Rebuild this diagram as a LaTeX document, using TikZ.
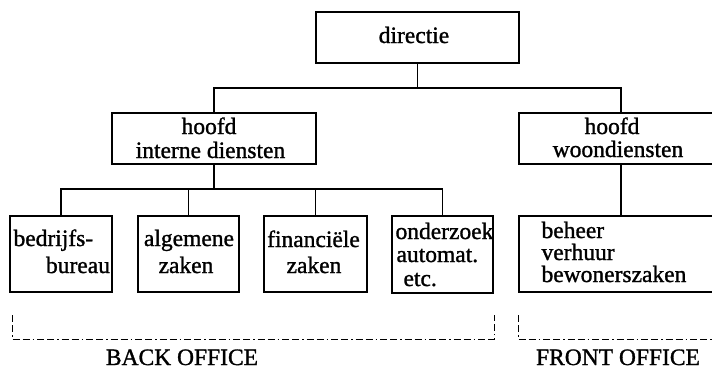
\documentclass[tikz,border=0pt]{standalone}
\usepackage{fontspec}
\setmainfont{Liberation Serif}[FakeBold=1.2]
\begin{document}
\begin{tikzpicture}[x=1pt,y=-1pt,
  line width=1.1pt,
  box/.style={draw,rectangle,inner sep=0pt,line width=1.1pt},
  txt/.style={inner sep=0pt,font=\fontsize{23.5}{24}\selectfont},
  link/.style={line width=1.1pt},
  bracket/.style={line width=0.9pt,dash pattern=on 7pt off 3pt on 7pt off 3pt on 1.5pt off 3pt}]
\clip (0,0) rectangle (712,370);
\fill[white] (0,0) rectangle (712,370);

% boxes
\node[box,minimum width=203pt,minimum height=51pt] (dir) at (417.5,37.5) {};
\node[box,minimum width=204pt,minimum height=51pt] (hid) at (214,138.5) {};
\node[box,minimum width=204pt,minimum height=51pt] (hw)  at (621,138.5) {};
\node[box,minimum width=102pt,minimum height=76pt] (b1) at (61,254) {};
\node[box,minimum width=101pt,minimum height=76pt] (b2) at (188.5,254) {};
\node[box,minimum width=103pt,minimum height=76pt] (b3) at (315.5,254) {};
\node[box,minimum width=101pt,minimum height=77pt] (b4) at (442.5,254.5) {};
\node[box,minimum width=204pt,minimum height=76pt] (fo) at (621,254) {};

% texts
\node[txt,anchor=base] (tdir) at (414,43) {directie};
\node[txt,anchor=base] (thid1) at (209,134) {hoofd};
\node[txt,anchor=base] (thid2) at (210.5,158) {interne diensten};
\node[txt,anchor=base] (thw1) at (612,134) {hoofd};
\node[txt,anchor=base] (thw2) at (618,157) {woondiensten};
\node[txt,anchor=base west] (tb1a) at (13,246) {bedrijfs-};
\node[txt,anchor=base east] (tb1b) at (110.5,273) {bureau};
\node[txt,anchor=base] (tb2a) at (189,246) {algemene};
\node[txt,anchor=base] (tb2b) at (186,273) {zaken};
\node[txt,anchor=base] (tb3a) at (313.5,247) {financiële};
\node[txt,anchor=base] (tb3b) at (314,273) {zaken};
\node[txt,anchor=base west] (tb4a) at (395,239) {onderzoek};
\node[txt,anchor=base west] (tb4b) at (396,262) {automat.};
\node[txt,anchor=base west] (tb4c) at (403,286) {etc.};
\node[txt,anchor=base west] (tfo1) at (541,238) {beheer};
\node[txt,anchor=base west] (tfo2) at (541,260) {verhuur};
\node[txt,anchor=base west] (tfo3) at (541,282) {bewonerszaken};
\node[txt,anchor=base] (back) at (182,365) {BACK OFFICE};
\node[txt,anchor=base] (front) at (618,365) {FRONT OFFICE};

% connectors
\coordinate (j1) at (417.5,88);
\coordinate (j2) at (214,189);
\draw[link] (dir.south) -- (j1);
\draw[link] (hid.north) |- (j1) -| (hw.north);
\draw[link] (hid.south) -- (j2);
\draw[link] (b1.north) |- (j2) -| (b4.north);
\draw[link] (b2.north) -- (b2.north |- j2);
\draw[link] (b3.north) -- (b3.north |- j2);
\draw[link] (hw.south) -- (fo.north);

% office brackets
\draw[bracket] (12,315) -- (12,339) -- (494,339) -- (494,315);
\draw[bracket] (518,315) -- (518,339) -- (720,339);
\end{tikzpicture}
\end{document}
